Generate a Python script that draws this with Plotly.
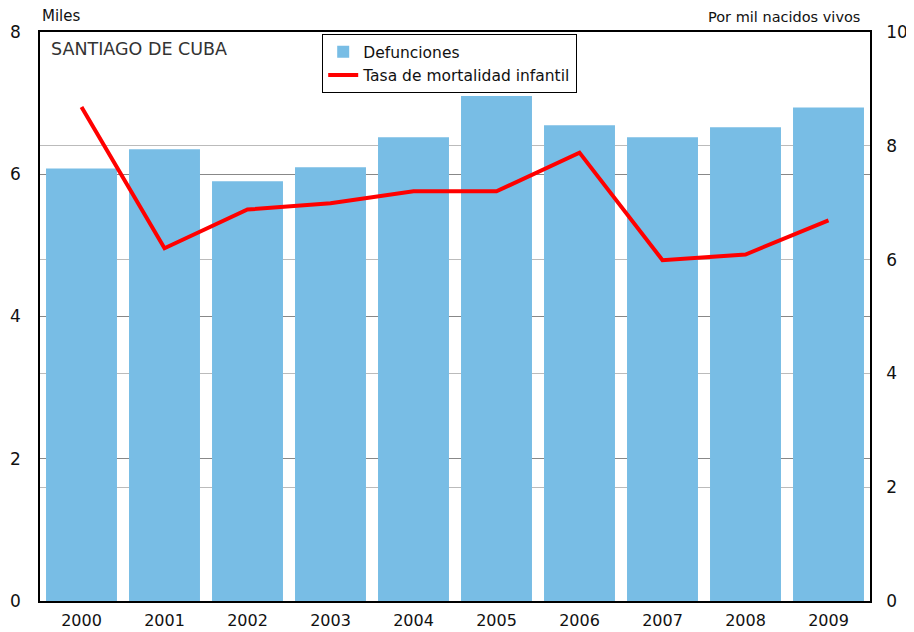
import plotly.graph_objects as go

years = ["2000", "2001", "2002", "2003", "2004", "2005", "2006", "2007", "2008", "2009"]
defunciones = [6.08, 6.35, 5.9, 6.1, 6.52, 7.1, 6.69, 6.52, 6.66, 6.94]
tasa = [8.68, 6.2, 6.88, 6.99, 7.2, 7.2, 7.88, 5.99, 6.09, 6.69]

font_family = "DejaVu Sans, sans-serif"

fig = go.Figure()
fig.add_trace(go.Bar(x=years, y=defunciones, name="Defunciones",
                     marker=dict(color="#78BDE5", line=dict(width=0)), yaxis="y"))
fig.add_trace(go.Scatter(x=years, y=tasa, name="Tasa de mortalidad infantil",
                         mode="lines", line=dict(color="#FF0000", width=4), yaxis="y2"))

fig.update_layout(
    width=906, height=624,
    margin=dict(l=32, r=44, t=24, b=31),
    plot_bgcolor="white", paper_bgcolor="white",
    font=dict(family=font_family, size=16, color="#111111"),
    bargap=0.145,
    showlegend=True,
    legend=dict(x=0.34, y=0.996, xanchor="left", yanchor="top",
                bordercolor="black", borderwidth=1, bgcolor="rgba(255,255,255,0)",
                font=dict(size=15.5), tracegroupgap=0, itemwidth=30),
    xaxis=dict(showline=True, linecolor="black", linewidth=1.5, mirror=True,
               ticks="", tickfont=dict(size=16), automargin=False,
               ticklabelstandoff=4),
    yaxis=dict(range=[0, 8], dtick=2, showgrid=True, gridcolor="#888888", gridwidth=1,
               showline=True, linecolor="black", linewidth=1.5, ticks="",
               zeroline=False, tickfont=dict(size=17), automargin=False,
               ticklabelstandoff=14),
    yaxis2=dict(range=[0, 10], dtick=2, overlaying="y", side="right",
                showgrid=True, gridcolor="#bbbbbb", gridwidth=1,
                showline=True, linecolor="black", linewidth=1.5, ticks="",
                zeroline=False, tickfont=dict(size=17), automargin=False,
                ticklabelstandoff=11),
    annotations=[
        dict(text="Miles", x=0, y=1.0, xref="paper", yref="paper",
             xanchor="left", yanchor="bottom", yshift=5, showarrow=False, font=dict(size=15)),
        dict(text="Por mil nacidos vivos", x=0.99, y=1.0, xref="paper", yref="paper",
             xanchor="right", yanchor="bottom", yshift=5, showarrow=False, font=dict(size=14.5)),
        dict(text="SANTIAGO DE CUBA", x=0.011, y=1.0, xref="paper", yref="paper",
             xanchor="left", yanchor="top", yshift=-5, showarrow=False, font=dict(size=17.5, color="#333333")),
    ],
)

fig.write_html("out.html")
